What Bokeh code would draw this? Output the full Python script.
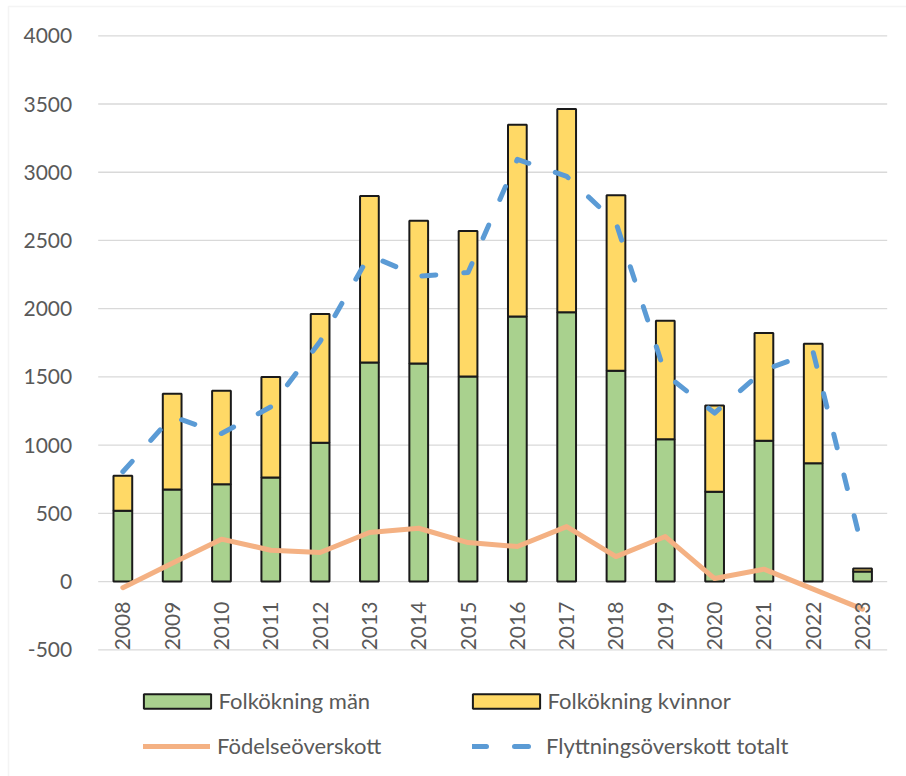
import math
from bokeh.plotting import figure
from bokeh.models import (ColumnDataSource, Range1d, FixedTicker, PrintfTickFormatter,
                          Legend, LegendItem, BoxAnnotation)
from bokeh.embed import file_html
from bokeh.resources import INLINE

# Population change per year
years = list(range(2008, 2024))
men = [520, 675, 714, 763, 1017, 1606, 1599, 1503, 1943, 1973, 1545, 1044, 658, 1032, 868, 73]
women = [255, 702, 685, 736, 944, 1220, 1046, 1067, 1406, 1491, 1286, 868, 633, 790, 875, 22]
birth_surplus = [-45, 135, 311, 230, 213, 360, 391, 286, 257, 403, 183, 330, 22, 91, -55, -202]
migration_surplus = [805, 1210, 1085, 1280, 1760, 2390, 2238, 2265, 3095, 2970, 2630, 1520,
                     1235, 1550, 1680, 237]
y_ticks = [-500, 0, 500, 1000, 1500, 2000, 2500, 3000, 3500, 4000]

FONT = "Lato"
TEXT = "#595959"
W, H = 906, 776

# plot area (pixels) that holds the categories and the value range
AREA_LEFT, AREA_RIGHT = 97.7, 886.7
Y_TOP_PX, Y_BOTTOM_PX = 35.3, 649.3          # where 4000 and -500 sit
cat_px = (AREA_RIGHT - AREA_LEFT) / len(years)
x_lo = years[0] - 0.5 - AREA_LEFT / cat_px
x_hi = x_lo + W / cat_px
ppu = (Y_BOTTOM_PX - Y_TOP_PX) / (y_ticks[-1] - y_ticks[0])
y_hi = y_ticks[-1] + Y_TOP_PX / ppu
y_lo = y_hi - H / ppu

total = [m + w for m, w in zip(men, women)]
src = ColumnDataSource(dict(year=years, men=men, total=total,
                            birth=birth_surplus, migr=migration_surplus))

p = figure(width=W, height=H, output_backend="svg", toolbar_location=None,
           x_range=Range1d(x_lo, x_hi), y_range=Range1d(y_lo, y_hi),
           min_border=0, min_border_left=0, min_border_right=0,
           min_border_top=0, min_border_bottom=0)
p.outline_line_color = None
p.background_fill_color = "white"
p.border_fill_color = "white"
p.grid.visible = False

# horizontal gridlines across the category area
gx0 = years[0] - 0.5
gx1 = years[-1] + 0.5
p.segment(x0=[gx0] * len(y_ticks), x1=[gx1] * len(y_ticks), y0=y_ticks, y1=y_ticks,
          line_color="#D9D9D9", line_width=1.3)

# y axis pinned to the left edge of the category area
p.yaxis.fixed_location = gx0
p.yaxis.ticker = FixedTicker(ticks=y_ticks)
p.yaxis.formatter = PrintfTickFormatter(format="%d")
p.yaxis.axis_line_color = None
p.yaxis.major_tick_line_color = None
p.yaxis.minor_tick_line_color = None
p.yaxis.major_label_standoff = 20
p.yaxis.major_label_text_font = FONT
p.yaxis.major_label_text_font_size = "21px"
p.yaxis.major_label_text_color = TEXT

# x axis on the zero line, year labels turned upright
p.xaxis.fixed_location = 0
p.xaxis.ticker = FixedTicker(ticks=years)
p.xaxis.formatter = PrintfTickFormatter(format="%d")
p.xaxis.axis_line_color = None
p.xaxis.major_tick_line_color = None
p.xaxis.minor_tick_line_color = None
p.xaxis.major_label_orientation = math.pi / 2
p.xaxis.major_label_standoff = 14
p.xaxis.major_label_text_font = FONT
p.xaxis.major_label_text_font_size = "21px"
p.xaxis.major_label_text_color = TEXT

# stacked bars
r_men = p.vbar(x="year", bottom=0, top="men", width=0.38, source=src,
               fill_color="#A9D18E", line_color="#1a1a1a", line_width=2)
r_women = p.vbar(x="year", bottom="men", top="total", width=0.38, source=src,
                 fill_color="#FFD966", line_color="#1a1a1a", line_width=2)

# lines
r_birth = p.line(x="year", y="birth", source=src, line_color="#F4B183", line_width=5,
                 line_join="round", line_cap="round")
r_migr = p.line(x="year", y="migr", source=src, line_color="#5B9BD5", line_width=5,
                line_join="round", line_cap="round", line_dash="14 28")


# legend, two columns by two rows under the plot area
def make_legend(label, renderer, x, y, gw, gh, standoff):
    lg = Legend(items=[LegendItem(label=label, renderers=[renderer])],
                location=(x, y), orientation="vertical",
                border_line_color=None, background_fill_alpha=0,
                padding=0, margin=0, spacing=0,
                glyph_width=gw, glyph_height=gh, label_height=20, label_standoff=standoff,
                label_text_font=FONT, label_text_font_size="22px",
                label_text_color=TEXT)
    p.add_layout(lg, "center")


# box swatches are drawn inset by a tenth of the glyph size on each side
make_legend("Folkökning män", r_men, 134.6, 62, 84, 18, 0)
make_legend("Folkökning kvinnor", r_women, 463.6, 62, 84, 18, 0)
make_legend("Födelseöverskott", r_birth, 143, 17, 67, 18, 7)
make_legend("Flyttningsöverskott totalt", r_migr, 472, 17, 67, 18, 7)

# chart border
p.add_layout(BoxAnnotation(left=8, right=2000, top=H - 6, bottom=-100,
                           left_units="screen", right_units="screen",
                           top_units="screen", bottom_units="screen",
                           fill_alpha=0, line_color="#D9D9D9", line_width=1.5))

open("out.html", "w").write(file_html(p, INLINE))
